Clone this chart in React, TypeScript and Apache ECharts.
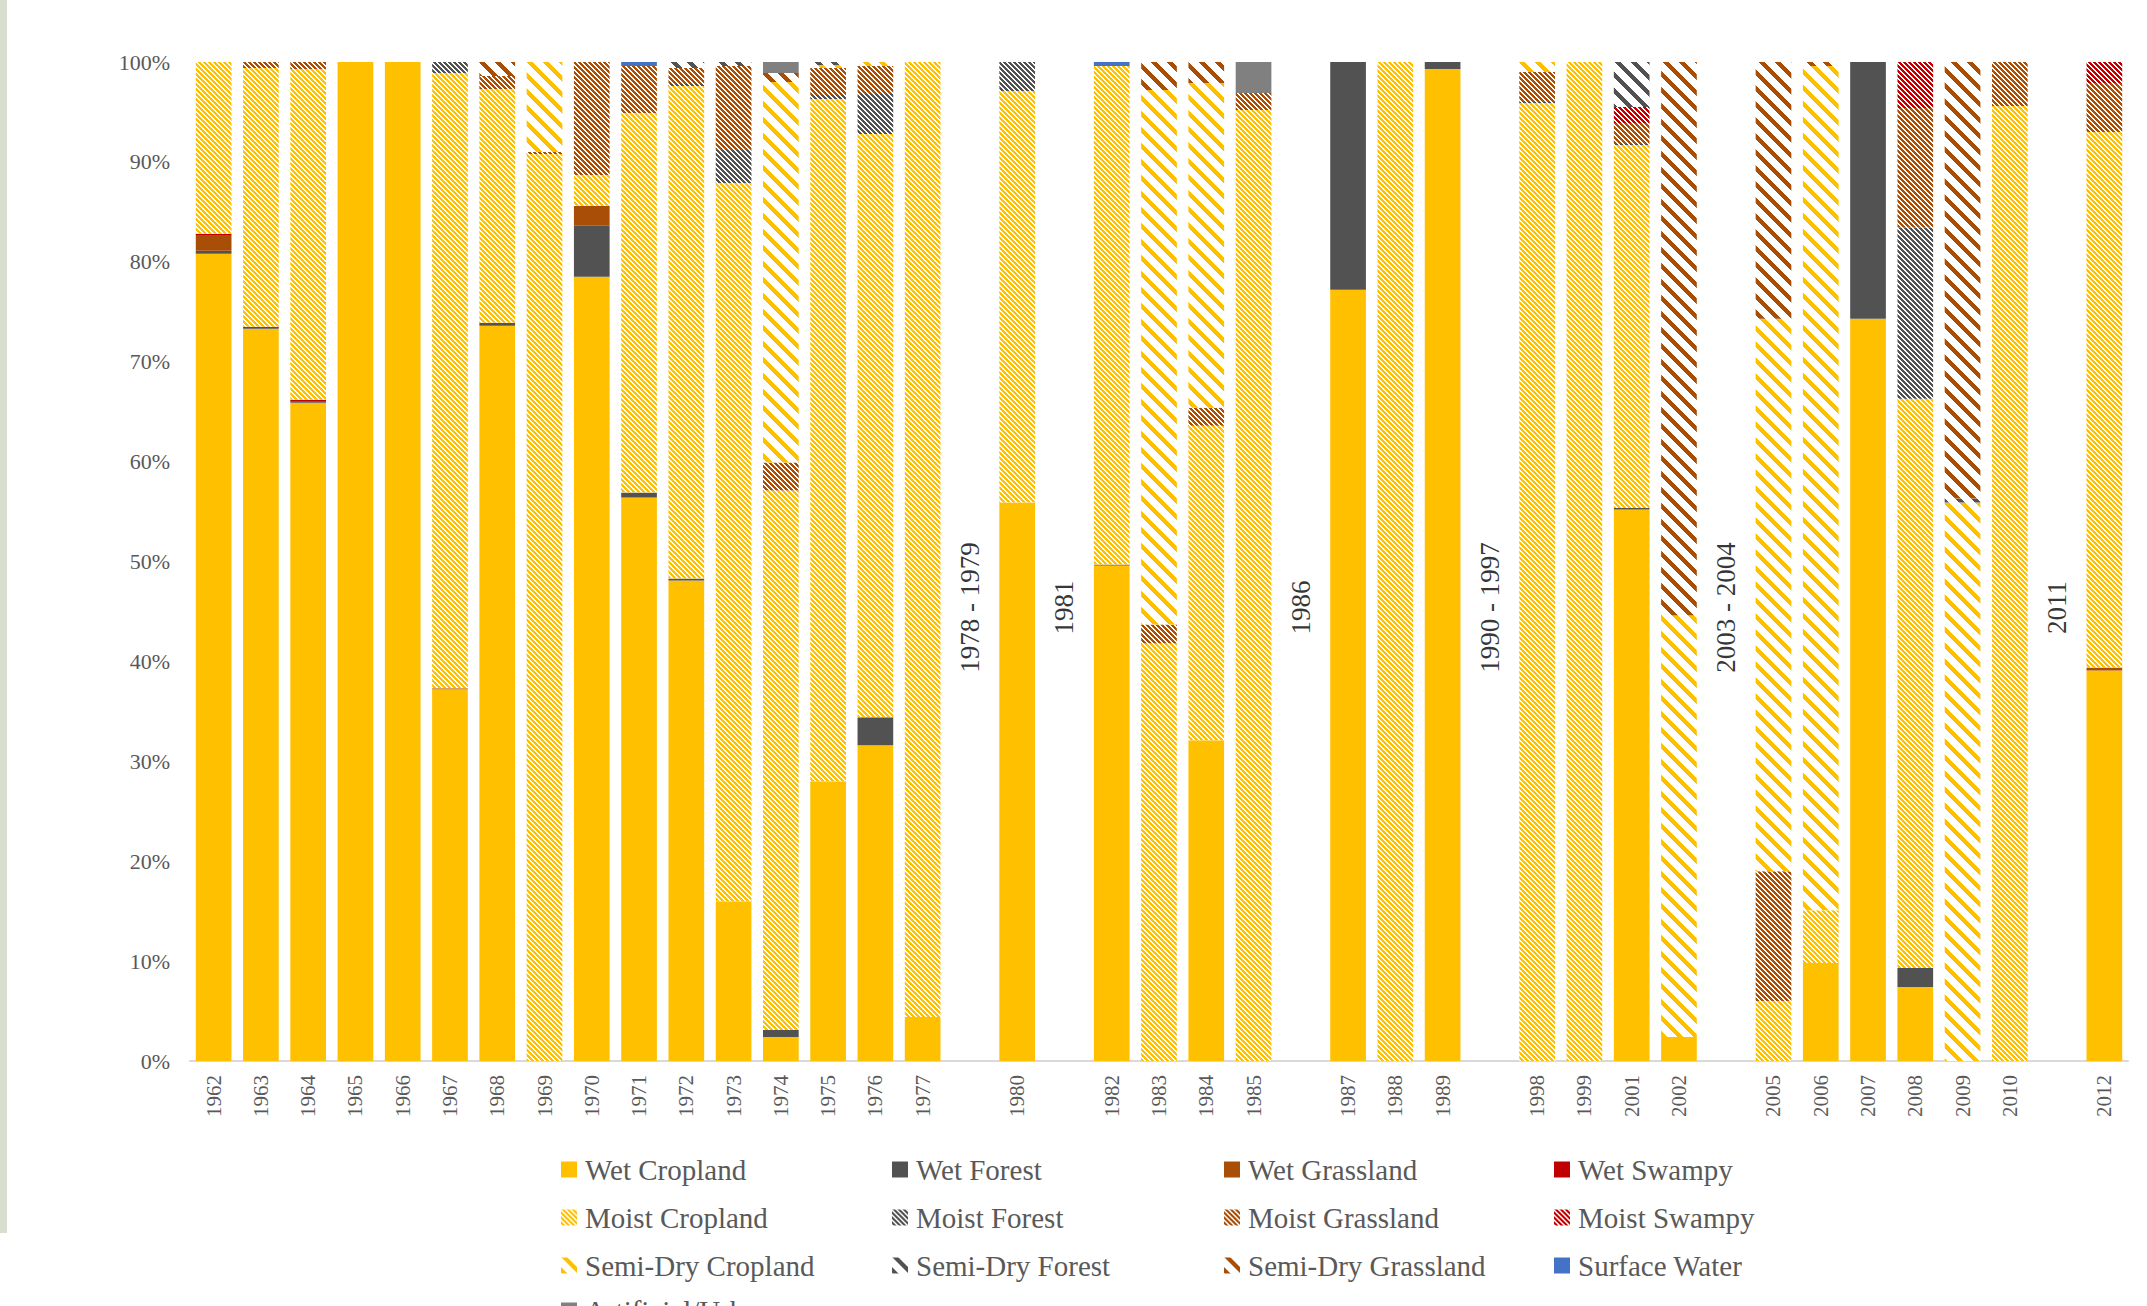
import React, { useEffect, useRef } from 'react';
import * as echarts from 'echarts';

// ---------- data ----------
const categories = [
  '1962', '1963', '1964', '1965', '1966', '1967', '1968', '1969', '1970', '1971',
  '1972', '1973', '1974', '1975', '1976', '1977', '1978 - 1979', '1980', '1981', '1982',
  '1983', '1984', '1985', '1986', '1987', '1988', '1989', '1990 - 1997', '1998', '1999',
  '2001', '2002', '2003 - 2004', '2005', '2006', '2007', '2008', '2009', '2010', '2011',
  '2012',
];
const gapLabels = ['1978 - 1979', '1981', '1986', '1990 - 1997', '2003 - 2004', '2011'];

const wetCropland = [80.8, 73.3, 65.9, 100, 100, 37.2, 73.6, 0, 78.5, 56.4, 48.1, 16.0, 2.4, 28.0, 31.6, 4.4, null, 55.9, null, 49.6, 0, 32.1, 0, null, 77.2, 0, 99.3, null, 0, 0, 55.2, 2.4, null, 0, 9.8, 74.3, 7.4, 0, 0, null, 39.1];
const wetForest = [0.3, 0.2, 0.1, 0, 0, 0, 0.3, 0, 5.1, 0.5, 0.2, 0, 0.7, 0, 2.8, 0, null, 0, null, 0.1, 0, 0, 0, null, 22.8, 0, 0.7, null, 0, 0, 0.15, 0, null, 0, 0, 25.7, 1.9, 0, 0, null, 0];
const wetGrassland = [1.5, 0, 0, 0, 0, 0.1, 0, 0, 2.0, 0, 0, 0, 0, 0, 0, 0, null, 0, null, 0, 0, 0, 0, null, 0, 0, 0, null, 0, 0, 0, 0, null, 0, 0, 0, 0, 0, 0, null, 0.3];
const wetSwampy = [0.2, 0, 0.2, 0, 0, 0, 0, 0, 0, 0, 0, 0, 0, 0, 0, 0, null, 0, null, 0, 0, 0, 0, null, 0, 0, 0, null, 0, 0, 0, 0, null, 0, 0, 0, 0, 0, 0, null, 0];
const moistCropland = [17.2, 25.9, 33.1, 0, 0, 61.6, 23.4, 90.8, 3.1, 38.0, 49.3, 71.9, 54.0, 68.3, 58.4, 95.6, null, 41.2, null, 49.9, 41.8, 31.5, 95.2, null, 0, 100, 0, null, 95.9, 100, 36.35, 0, null, 6.0, 5.3, 0, 57.0, 0, 95.6, null, 53.6];
const moistForest = [0, 0, 0, 0, 0, 1.1, 0, 0, 0, 0, 0.2, 3.3, 0, 0.4, 4.0, 0, null, 2.9, null, 0, 0, 0, 0, null, 0, 0, 0, null, 0.1, 0, 0.1, 0, null, 0, 0, 0, 17.1, 0, 0, null, 0];
const moistGrassland = [0, 0.6, 0.7, 0, 0, 0, 1.3, 0.2, 11.3, 4.7, 1.6, 8.4, 2.8, 2.7, 2.8, 0, null, 0, null, 0, 1.9, 1.8, 1.7, null, 0, 0, 0, null, 3.0, 0, 2.1, 0, null, 13.0, 0, 0, 12.0, 0, 4.4, null, 4.9];
const moistSwampy = [0, 0, 0, 0, 0, 0, 0, 0, 0, 0, 0, 0, 0, 0, 0, 0, null, 0, null, 0, 0, 0, 0, null, 0, 0, 0, null, 0, 0, 1.6, 0, null, 0, 0, 0, 4.6, 0, 0, null, 2.1];
const semiDryCropland = [0, 0, 0, 0, 0, 0, 0, 9.0, 0, 0, 0, 0, 38.1, 0.3, 0.4, 0, null, 0, null, 0, 53.5, 32.5, 0, null, 0, 0, 0, null, 1.0, 0, 0, 42.2, null, 55.3, 84.5, 0, 0, 55.9, 0, null, 0];
const semiDryForest = [0, 0, 0, 0, 0, 0, 0, 0, 0, 0, 0.6, 0.4, 0, 0.3, 0, 0, null, 0, null, 0, 0, 0, 0, null, 0, 0, 0, null, 0, 0, 4.5, 0, null, 0, 0, 0, 0, 0.4, 0, null, 0];
const semiDryGrassland = [0, 0, 0, 0, 0, 0, 1.4, 0, 0, 0, 0, 0, 0.9, 0, 0, 0, null, 0, null, 0, 2.8, 2.1, 0, null, 0, 0, 0, null, 0, 0, 0, 55.4, null, 25.7, 0.4, 0, 0, 43.7, 0, null, 0];
const surfaceWater = [0, 0, 0, 0, 0, 0, 0, 0, 0, 0.4, 0, 0, 0, 0, 0, 0, null, 0, null, 0.4, 0, 0, 0, null, 0, 0, 0, null, 0, 0, 0, 0, null, 0, 0, 0, 0, 0, 0, null, 0];
const artificialUrban = [0, 0, 0, 0, 0, 0, 0, 0, 0, 0, 0, 0, 1.1, 0, 0, 0, null, 0, null, 0, 0, 0, 3.1, null, 0, 0, 0, null, 0, 0, 0, 0, null, 0, 0, 0, 0, 0, 0, null, 0];

const yMin = 0;
const yMax = 100;
const yStep = 10;

// ---------- styles ----------
const FONT = "'Liberation Serif', 'DejaVu Serif', serif";
const GAP_LABEL_VALUE = 45.4; // vertical placement of the gap captions
const C_YELLOW = '#FFC000';
const C_DARK = '#525252';
const C_BROWN = '#A84E06';
const C_RED = '#C00000';
const C_BLUE = '#4472C4';
const C_GRAY = '#808080';

function diagonal(period: number, width: number) {
  const rows: number[][] = [];
  for (let i = 0; i < period; i++) {
    if (i + width <= period) rows.push([0, i, width, period - i - width]);
    else rows.push([i + width - period, period - width, period - i, 0]);
  }
  return rows;
}
function decal(color: string, period: number, width: number) {
  return {
    symbol: 'rect',
    symbolSize: 1,
    symbolKeepAspect: false,
    dashArrayX: diagonal(period, width),
    dashArrayY: [1, 0],
    color,
    maxTileWidth: 64,
    maxTileHeight: 64,
  };
}

type Def = { name: string; data: (number | null)[]; color: string; pattern?: 'narrow' | 'wide' };
const defs: Def[] = [
  { name: 'Wet Cropland', data: wetCropland, color: C_YELLOW },
  { name: 'Wet Forest', data: wetForest, color: C_DARK },
  { name: 'Wet Grassland', data: wetGrassland, color: C_BROWN },
  { name: 'Wet Swampy', data: wetSwampy, color: C_RED },
  { name: 'Moist Cropland', data: moistCropland, color: C_YELLOW, pattern: 'narrow' },
  { name: 'Moist Forest', data: moistForest, color: C_DARK, pattern: 'narrow' },
  { name: 'Moist Grassland', data: moistGrassland, color: C_BROWN, pattern: 'narrow' },
  { name: 'Moist Swampy', data: moistSwampy, color: C_RED, pattern: 'narrow' },
  { name: 'Semi-Dry Cropland', data: semiDryCropland, color: C_YELLOW, pattern: 'wide' },
  { name: 'Semi-Dry Forest', data: semiDryForest, color: C_DARK, pattern: 'wide' },
  { name: 'Semi-Dry Grassland', data: semiDryGrassland, color: C_BROWN, pattern: 'wide' },
  { name: 'Surface Water', data: surfaceWater, color: C_BLUE },
  { name: 'Artificial/Urban', data: artificialUrban, color: C_GRAY },
];

const legendCols = [
  ['Wet Cropland', 'Moist Cropland', 'Semi-Dry Cropland'],
  ['Wet Forest', 'Moist Forest', 'Semi-Dry Forest'],
  ['Wet Grassland', 'Moist Grassland', 'Semi-Dry Grassland'],
  ['Wet Swampy', 'Moist Swampy', 'Surface Water'],
  ['Artificial/Urban'],
];
const legendLeft = [561, 892, 1224, 1554, 561];
const legendTop = [1155, 1155, 1155, 1155, 1296];

export default function App() {
  const ref = useRef<HTMLDivElement>(null);
  useEffect(() => {
    if (!ref.current) return;
    const chart = echarts.init(ref.current, null, { renderer: 'svg' });
    const barSeries = defs.map((d) => ({
      name: d.name,
      type: 'bar',
      stack: 'total',
      barWidth: '75.5%',
      data: d.data,
      itemStyle: d.pattern
        ? {
            color: '#ffffff',
            decal: d.pattern === 'narrow' ? decal(d.color, 5, 3) : decal(d.color, 16, 6),
          }
        : { color: d.color },
      emphasis: { disabled: true },
    }));
    const gapSeries = {
      name: 'gaps',
      type: 'scatter',
      symbolSize: 0,
      silent: true,
      data: categories.map((c) => (gapLabels.includes(c) ? GAP_LABEL_VALUE : '-')),
      label: {
        show: true,
        position: 'inside',
        rotate: 90,
        formatter: (p: any) => categories[p.dataIndex],
        fontFamily: FONT,
        fontSize: 27,
        color: '#000000',
      },
    };
    chart.setOption({
      animation: false,
      backgroundColor: '#ffffff',
      grid: { left: 190, right: 19, top: 62, bottom: 245, containLabel: false },
      xAxis: {
        type: 'category',
        data: categories,
        axisTick: { show: false },
        axisLine: { lineStyle: { color: '#d9d9d9', width: 2 } },
        axisLabel: {
          interval: 0,
          rotate: 90,
          margin: 14,
          fontFamily: FONT,
          fontSize: 21,
          color: '#595959',
          formatter: (v: string) => (gapLabels.includes(v) ? '' : v),
        },
      },
      yAxis: {
        type: 'value',
        min: yMin,
        max: yMax,
        interval: yStep,
        splitLine: { show: false },
        axisLine: { show: false },
        axisTick: { show: false },
        axisLabel: {
          margin: 20,
          fontFamily: FONT,
          fontSize: 22,
          color: '#595959',
          formatter: '{value}%',
        },
      },
      legend: legendCols.map((cols, i) => ({
        data: cols,
        orient: 'vertical',
        left: legendLeft[i],
        top: legendTop[i],
        height: 300,
        padding: 0,
        itemWidth: 16,
        itemHeight: 16,
        itemGap: 19,
        icon: 'rect',
        selectedMode: false,
        textStyle: { fontFamily: FONT, fontSize: 29, lineHeight: 28, color: '#595959', padding: [0, 0, 0, 3] },
      })),
      graphic: [
        { type: 'rect', left: 0, top: 0, shape: { width: 7, height: 1233 }, style: { fill: '#d9dfcf' }, silent: true },
      ],
      series: [...barSeries, gapSeries],
    });
    return () => chart.dispose();
  }, []);
  return (
    <div
      ref={ref}
      style={{ position: 'fixed', left: 0, top: 0, width: 2147, height: 1306, background: '#fff' }}
    />
  );
}
